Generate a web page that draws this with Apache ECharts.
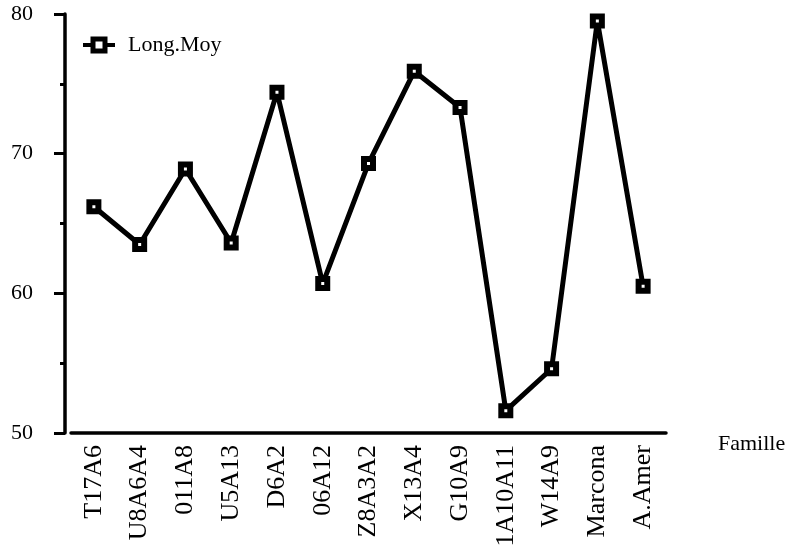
<!DOCTYPE html>
<html>
<head>
<meta charset="utf-8">
<script src="https://cdn.jsdelivr.net/npm/echarts@6/dist/echarts.min.js"></script>
<style>
html,body{margin:0;padding:0;background:#fff;}
#chart{width:789px;height:551px;}
</style>
</head>
<body>
<div id="chart"></div>
<script>
const categories = ['T17A6','U8A6A4','011A8','U5A13','D6A2','06A12','Z8A3A2','X13A4','G10A9','1A10A11','W14A9','Marcona','A.Amer'];
const longMoy = [66.2,63.5,68.9,63.6,74.4,60.7,69.3,75.9,73.3,51.6,54.6,79.5,60.5];
const yTicks = [50,60,70,80];
const seriesName = 'Long.Moy';
const xName = 'Famille';

const FONT = '"Liberation Serif","DejaVu Serif",serif';
const chart = echarts.init(document.getElementById('chart'));
chart.setOption({
  animation:false,
  backgroundColor:'#fff',
  textStyle:{fontFamily:FONT,color:'#000'},
  grid:{left:71,right:123,top:14,bottom:118,containLabel:false},
  legend:{
    left:76, top:29,
    itemWidth:32, itemHeight:15,
    data:[seriesName],
    lineStyle:{color:'#000',width:4},
    itemStyle:{color:'#fff',borderColor:'#000',borderWidth:5},
    textStyle:{fontFamily:FONT,fontSize:22,color:'#000',padding:[0,0,0,8]}
  },
  xAxis:[{
    type:'category',
    data:categories,
    boundaryGap:true,
    name:xName,
    nameLocation:'end',
    nameGap:52,
    nameTextStyle:{fontFamily:FONT,fontSize:22,color:'#000',verticalAlign:'top',lineHeight:22},
    axisLine:{lineStyle:{color:'#000',width:3.5}},
    axisTick:{alignWithLabel:true,length:10,lineStyle:{color:'#000',width:3}},
    axisLabel:{rotate:90,interval:0,margin:12,fontFamily:FONT,fontSize:26,color:'#000'},
    splitLine:{show:false}
  },{
    type:'category',
    data:categories,
    boundaryGap:true,
    position:'bottom',
    axisLine:{show:false},
    axisTick:{length:5,lineStyle:{color:'#000',width:3}},
    axisLabel:{show:false},
    splitLine:{show:false}
  }],
  yAxis:{
    type:'value',
    min:yTicks[0], max:yTicks[yTicks.length-1], interval:10,
    offset:6,
    axisLine:{show:true,lineStyle:{color:'#000',width:3.5}},
    axisTick:{show:true,length:11,lineStyle:{color:'#000',width:3}},
    minorTick:{show:true,splitNumber:2,length:5,lineStyle:{color:'#000',width:3}},
    axisLabel:{margin:32,fontFamily:FONT,fontSize:22,color:'#000'},
    splitLine:{show:false}
  },
  series:[{
    name:seriesName,
    type:'line',
    data:longMoy,
    symbol:'rect',
    symbolSize:9,
    showAllSymbol:true,
    lineStyle:{color:'#000',width:5},
    itemStyle:{color:'#fff',borderColor:'#000',borderWidth:6}
  }]
});
</script>
</body>
</html>
